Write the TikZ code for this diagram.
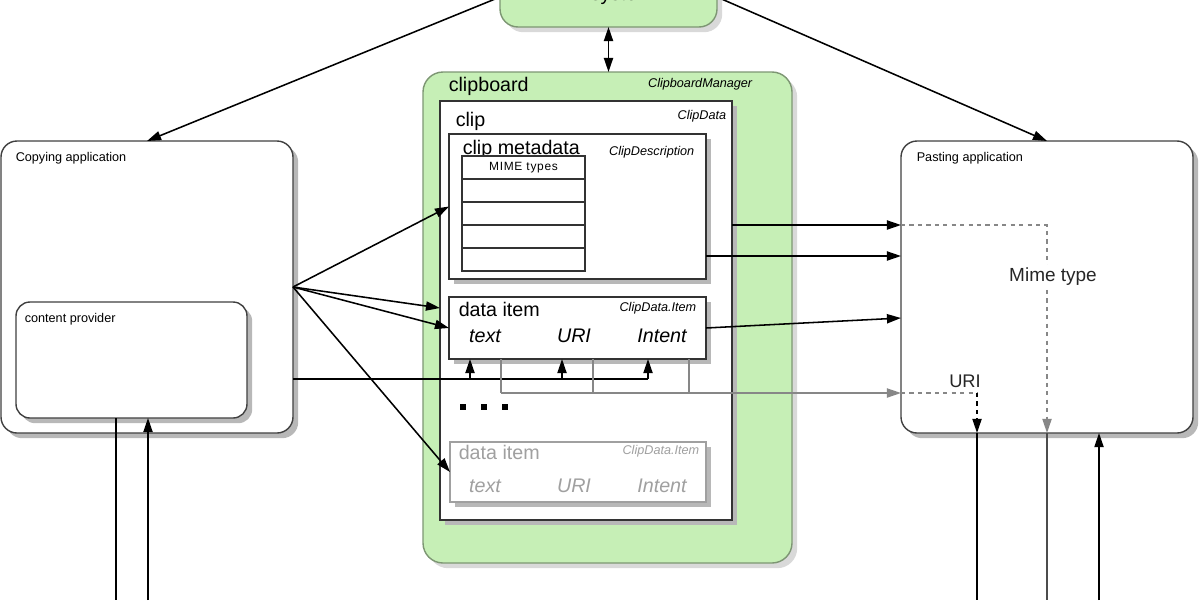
\documentclass[tikz,border=0pt]{standalone}
\usepackage{fontspec}
\setmainfont{Liberation Sans}
\usepackage{xcolor}
\usepackage{tikz}
\usetikzlibrary{arrows.meta,positioning,shadows,calc}

\definecolor{boardgreen}{RGB}{198,239,182}
\definecolor{boardedge}{RGB}{125,150,115}
\definecolor{linegray}{RGB}{135,135,135}
\definecolor{faded}{RGB}{160,160,160}
\def\pw{0.025cm}
\def\fs#1{\fontsize{#1}{#1}\selectfont}

\begin{document}
\begin{tikzpicture}[x=0.025cm, y=-0.025cm, line width=1.1pt, >={Triangle[length=10pt,width=6.5pt]},
  shade/.style={drop shadow={shadow xshift=0.13cm, shadow yshift=-0.13cm, fill=black!28, opacity=1}},
  appbox/.style={draw=black!75, line width=1pt, fill=white, rounded corners=0.4cm, shade},
  greenbox/.style={draw=boardedge, line width=1pt, fill=boardgreen, rounded corners=0.5cm,
    drop shadow={shadow xshift=0.13cm, shadow yshift=-0.13cm, fill=black!15, opacity=1}},
  plainbox/.style={draw=black!80, line width=1pt, fill=white, shade},
  fadedbox/.style={draw=faded, line width=1pt, fill=white, shade},
  cell/.style={draw=black!80, line width=0.8pt, fill=white},
  big/.style={font=\fs{14}},
  small/.style={font=\fs{9}},
  tag/.style={inner sep=0pt, anchor=base west},
  cls/.style={font=\fs{9}\itshape, inner sep=0pt, anchor=base east}]
  % 1 unit = 1 px of the 1200x600 frame, y runs downwards
  \clip (0,0) rectangle (1200,600);
  \def\panel#1#2#3#4#5#6#7{% name, style, x1, y1, x2, y2, text
    \node[#2, inner sep=0pt, outer sep=0pt, minimum width={((#5)-(#3))*\pw}, minimum height={((#6)-(#4))*\pw}]
      (#1) at ({((#3)+(#5))/2},{((#4)+(#6))/2}) {#7};}

  % system box, mostly above the frame
  \panel{sys}{greenbox, rounded corners=0.45cm}{500}{-33}{717}{27}{}
  \node[big] (systxt) at (622,-4) {system};

  % the two applications
  \panel{copy}{appbox}{1}{141}{293}{433}{}
  \node[small, tag] (copylbl) at (15,161) {Copying application};
  \panel{prov}{appbox, rounded corners=0.35cm}{16}{302}{247}{418}{}
  \node[small, tag] (provlbl) at (24,322) {content provider};
  \panel{paste}{appbox}{901}{141}{1193}{433}{}
  \node[small, tag] (pastelbl) at (916,161) {Pasting application};

  % clipboard and what it holds
  \panel{board}{greenbox}{423}{72}{792}{563}{}
  \node[big, tag] (boardlbl) at (448,91) {clipboard};
  \node[cls] (boardcls) at (753,87) {ClipboardManager};
  \panel{clip}{plainbox}{440}{101}{732}{520}{}
  \node[big, tag] (cliplbl) at (455,126) {clip};
  \node[cls] (clipcls) at (727,119) {ClipData};
  \panel{meta}{plainbox}{449}{134}{706}{279}{}
  \node[big, tag] (metalbl) at (462,154) {clip metadata};
  \node[cls] (metacls) at (695,155) {ClipDescription};
  \panel{mimehead}{cell, line width=1.5pt}{462}{156}{585}{179}{\fs{8.5}\addfontfeatures{LetterSpace=6}MIME types}
  \foreach \i in {0,...,3}{
    \pgfmathtruncatemacro\ra{179+23*\i}
    \pgfmathtruncatemacro\rb{202+23*\i}
    \panel{mimerow\i}{cell}{462}{\ra}{585}{\rb}{}
  }
  \panel{item}{plainbox}{449}{297}{706}{359}{}
  \node[big, tag] (itemlbl) at (458,316) {data item};
  \node[cls] (itemcls) at (697,311) {ClipData.Item};
  \foreach \x/\t/\n in {485/text/a, 574/URI/b, 662/Intent/c}
    \node[big, font=\fs{14}\itshape, anchor=base] (field\n) at (\x,342) {\t};
  \foreach \x in {463,484,505} \fill (\x-3,404) rectangle (\x+3,410);
  \panel{item2}{fadedbox}{450}{442}{706}{502}{}
  \node[big, faded, tag] (item2lbl) at (458,459) {data item};
  \node[cls, faded] (item2cls) at (700,454) {ClipData.Item};
  \foreach \x/\t/\n in {485/text/a, 574/URI/b, 662/Intent/c}
    \node[big, faded, font=\fs{14}\itshape, anchor=base] (fade\n) at (\x,492) {\t};

  % levels used by the connectors
  \coordinate (rowA) at (0,225);
  \coordinate (rowB) at (0,256);
  \coordinate (rowC) at (0,318);
  \coordinate (rowD) at (0,308);
  \coordinate (feed) at (0,379);
  \coordinate (tray) at (0,393);
  \coordinate (urix) at (977,0);
  \coordinate (mimex) at (1047,0);

  \draw[->] (sys.west) -- (copy.north);
  \draw[->] (sys.east) -- (paste.north);
  \draw[<->] (sys.south) -- (sys.south |- board.north);

  % copying application puts data on the clip
  \draw[->] (copy.east) -- (meta.west);
  \draw[->] (copy.east) -- (clip.west |- rowD);
  \draw[->] (copy.east) -- (item.west);
  \draw[->] (copy.east) -- (item2.west);
  \draw (copy.east |- feed) -- (648,379);
  \foreach \x in {470,562,648} \draw[->] (\x,379) -- (item.south -| \x,0);

  % pasting application reads it back
  \draw[->] (clip.east |- rowA) -- (paste.west |- rowA);
  \draw[->] (meta.east |- rowB) -- (paste.west |- rowB);
  \draw[->] (item.east) -- (paste.west |- rowC);
  \foreach \x in {501,593,689} \draw[linegray] (item.south -| \x,0) -- (\x,393);
  \draw[->, linegray] (501,393) -- (paste.west |- tray);
  \draw[dashed, linegray, ->] (paste.west |- rowA) -| (paste.south -| mimex);
  \node[font=\fs{13.5}, fill=white, inner sep=2pt, text=black!85] (mimelbl) at (1053,277) {Mime type};
  \draw[dashed, linegray] (paste.west |- tray) -- (urix |- tray);
  \draw[dashed, ->] (urix |- tray) -- (paste.south -| urix);
  \node[font=\fs{13}, text=black!85] (urilbl) at (965,381) {URI};

  % lines leaving the frame
  \draw (paste.south -| urix) -- (977,600);
  \draw[black!70] (paste.south -| mimex) -- (1047,600);
  \draw[->] (1099,600) -- (paste.south -| 1099,0);
  \draw (prov.south -| 116,0) -- (116,600);
  \draw[->] (148,600) -- (prov.south -| 148,0);
\end{tikzpicture}
\end{document}
